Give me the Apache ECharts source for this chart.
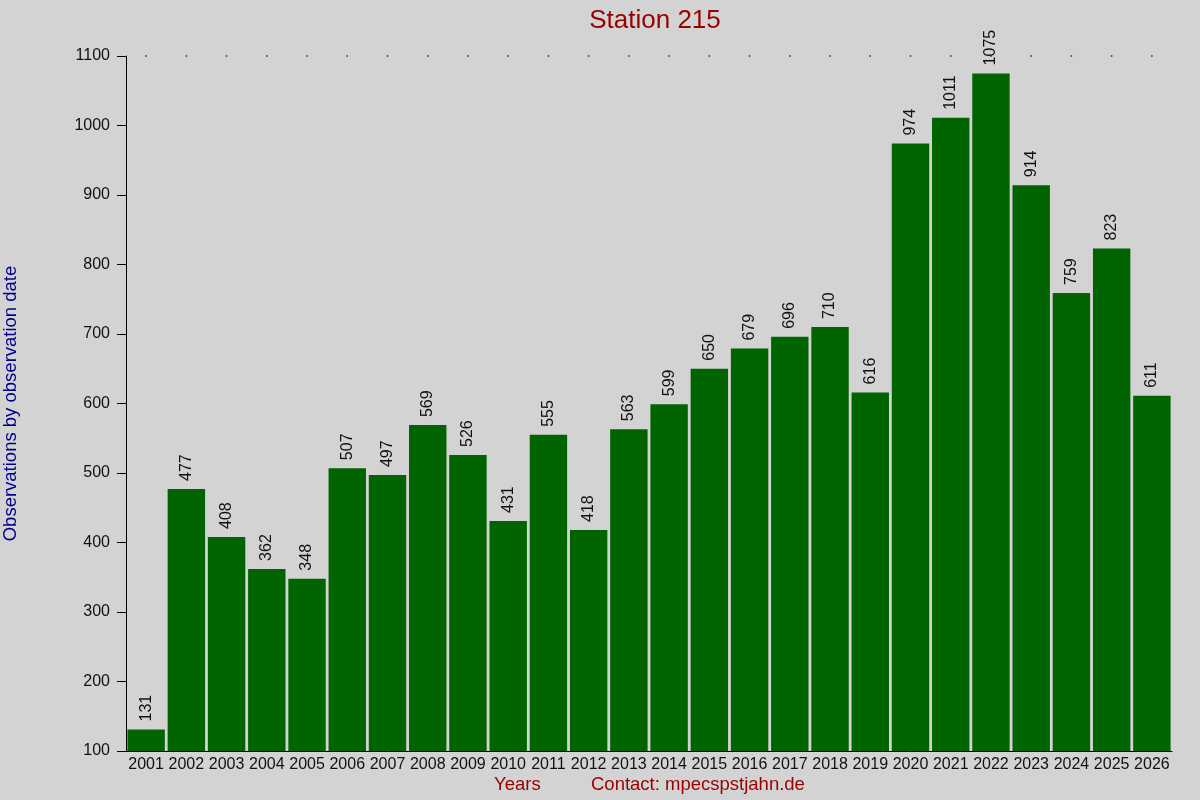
<!DOCTYPE html>
<html lang="en">
<head>
  <meta charset="UTF-8">
  <title>Station 215</title>
  <style>
    * { margin: 0; padding: 0; }
    body { background-color: #d3d3d3; }
    #main { width: 1200px; height: 800px; }
  </style>
</head>
<body>
  <div id="main"></div>
  <script src="https://cdn.jsdelivr.net/npm/echarts@6/dist/echarts.min.js"></script>
  <script>
    // years and yearly observation counts
    var years = ['2001', '2002', '2003', '2004', '2005', '2006', '2007', '2008', '2009', '2010',
      '2011', '2012', '2013', '2014', '2015', '2016', '2017', '2018', '2019', '2020',
      '2021', '2022', '2023', '2024', '2025', '2026'];
    var counts = [131, 477, 408, 362, 348, 507, 497, 569, 526, 431,
      555, 418, 563, 599, 650, 679, 696, 710, 616, 974,
      1011, 1075, 914, 759, 823, 611];
    // dotted line along the top of the plot
    var topLine = years.map(function () { return 1100; });

    var font = 'Liberation Sans, Arial, sans-serif';
    var myChart = echarts.init(document.getElementById('main'));

    var option = {
      backgroundColor: '#d3d3d3',
      animation: false,
      title: {
        text: 'Station 215',
        left: 650,
        top: 3,
        textAlign: 'center',
        textStyle: { color: '#990000', fontSize: 26, fontWeight: 'normal', fontFamily: font }
      },
      grid: { left: 126, right: 28, top: 56, bottom: 49, outerBoundsMode: 'none' },
      xAxis: {
        type: 'category',
        data: years,
        axisLine: { lineStyle: { color: '#000', width: 1 } },
        axisTick: { show: false },
        axisLabel: { color: '#111', fontSize: 16, fontFamily: font, margin: 6, interval: 0 }
      },
      yAxis: {
        type: 'value',
        min: 100,
        max: 1100,
        interval: 100,
        name: 'Observations by observation date',
        nameLocation: 'middle',
        nameGap: 106,
        nameTextStyle: { color: '#00008b', fontSize: 18.5, fontFamily: font },
        axisLine: { show: true, lineStyle: { color: '#000', width: 1 } },
        axisTick: { show: true, length: 9, lineStyle: { color: '#000' } },
        axisLabel: {
          color: '#111', fontSize: 16, fontFamily: font, margin: 16,
          formatter: function (v) { return String(v); }
        },
        splitLine: { show: false }
      },
      graphic: [
        {
          type: 'text', left: 494, top: 775,
          style: { text: 'Years', fill: '#990000', fontSize: 18.5, fontFamily: font }
        },
        {
          type: 'text', left: 591, top: 775,
          style: { text: 'Contact: mpecspstjahn.de', fill: '#990000', fontSize: 18.5, fontFamily: font }
        }
      ],
      series: [
        {
          type: 'bar',
          data: counts,
          barCategoryGap: '7%',
          itemStyle: { color: '#006400' },
          label: {
            show: true,
            position: 'top',
            rotate: 90,
            align: 'left',
            verticalAlign: 'middle',
            distance: 8,
            color: '#111',
            fontSize: 16,
            fontFamily: font
          },
          z: 3
        },
        {
          type: 'scatter',
          data: topLine,
          symbol: 'rect',
          symbolSize: 1.5,
          itemStyle: { color: '#000' },
          silent: true,
          z: 1
        }
      ]
    };

    myChart.setOption(option);
  </script>
</body>
</html>
